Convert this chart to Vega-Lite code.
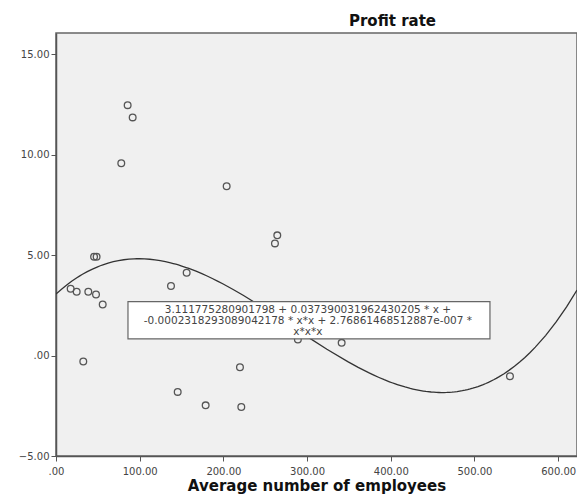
{
  "$schema": "https://vega.github.io/schema/vega-lite/v6.json",
  "width": 521,
  "height": 423,
  "autosize": "none",
  "padding": {"left": 56, "top": 33, "right": 0, "bottom": 48},
  "background": "white",
  "config": {
    "view": {"fill": "#f0f0f0", "stroke": "#666666", "strokeWidth": 1.5},
    "axis": {
      "domainColor": "#555555", "domainWidth": 1.5, "tickColor": "#555555", "tickSize": 5, "tickWidth": 1,
      "grid": false, "labelFont": "DejaVu Sans", "labelFontSize": 10, "labelColor": "#444444",
      "titleFont": "DejaVu Sans", "titleFontSize": 15, "titleFontWeight": "bold", "titleColor": "#111111"
    }
  },
  "title": {
    "text": "Profit rate", "font": "DejaVu Sans", "fontSize": 15, "fontWeight": "bold", "color": "#111111",
    "anchor": "middle", "frame": "group", "dx": 76, "dy": 16, "offset": 5, "baseline": "bottom"
  },
  "datasets": {
    "points": [
      {"employees": 85.6, "profit": 12.46},
      {"employees": 91.6, "profit": 11.85},
      {"employees": 78.0, "profit": 9.57},
      {"employees": 203.9, "profit": 8.42},
      {"employees": 264.4, "profit": 5.98},
      {"employees": 261.6, "profit": 5.58},
      {"employees": 45.5, "profit": 4.92},
      {"employees": 48.5, "profit": 4.92},
      {"employees": 156.1, "profit": 4.12},
      {"employees": 137.4, "profit": 3.46},
      {"employees": 17.5, "profit": 3.32},
      {"employees": 24.7, "profit": 3.17},
      {"employees": 38.6, "profit": 3.17},
      {"employees": 47.8, "profit": 3.04},
      {"employees": 55.8, "profit": 2.54},
      {"employees": 289.0, "profit": 0.80},
      {"employees": 341.3, "profit": 0.63},
      {"employees": 32.6, "profit": -0.30},
      {"employees": 219.8, "profit": -0.58},
      {"employees": 145.4, "profit": -1.81},
      {"employees": 178.8, "profit": -2.48},
      {"employees": 221.4, "profit": -2.56},
      {"employees": 542.4, "profit": -1.03}
    ],
    "box": [{"x1": 86, "x2": 518.5, "y1": 2.68, "y2": 0.83}],
    "eq": [
      {"x": 301, "y": 2.27, "t": "3.111775280901798 + 0.037390031962430205 * x +"},
      {"x": 301, "y": 1.72, "t": "-0.0002318293089042178 * x*x + 2.76861468512887e-007 *"},
      {"x": 301, "y": 1.17, "t": "x*x*x"}
    ]
  },
  "layer": [
    {
      "data": {"name": "points"},
      "transform": [{"regression": "profit", "on": "employees", "method": "poly", "order": 3, "extent": [0, 622.5]}],
      "mark": {"type": "line", "color": "#333333", "strokeWidth": 1.3, "clip": true},
      "encoding": {
        "x": {"field": "employees", "type": "quantitative", "title": "Average number of employees",
          "scale": {"domain": [0, 622.5], "nice": false, "zero": false},
          "axis": {"values": [0, 100, 200, 300, 400, 500, 600], "labelExpr": "datum.value == 0 ? '.00' : format(datum.value, '.2f')", "labelFlush": false, "labelOverlap": false, "labelPadding": 5, "titlePadding": 2}},
        "y": {"field": "profit", "type": "quantitative", "title": null,
          "scale": {"domain": [-5, 16.05], "nice": false, "zero": false},
          "axis": {"values": [-5, 0, 5, 10, 15], "labelExpr": "datum.value == 0 ? '.00' : format(datum.value, '.2f')", "labelFlush": false, "labelOverlap": false, "labelPadding": 2}}
      }
    },
    {
      "data": {"name": "points"},
      "mark": {"type": "point", "shape": "circle", "filled": false, "size": 45, "color": "#555555", "strokeWidth": 1.3, "opacity": 1},
      "encoding": {
        "x": {"field": "employees", "type": "quantitative", "title": "Average number of employees"},
        "y": {"field": "profit", "type": "quantitative", "title": null}
      }
    },
    {
      "data": {"name": "box"},
      "mark": {"type": "rect", "fill": "white", "stroke": "#666666", "strokeWidth": 1.2},
      "encoding": {
        "x": {"field": "x1", "type": "quantitative", "title": "Average number of employees"},
        "x2": {"field": "x2"},
        "y": {"field": "y1", "type": "quantitative", "title": null},
        "y2": {"field": "y2"}
      }
    },
    {
      "data": {"name": "eq"},
      "mark": {"type": "text", "font": "DejaVu Sans", "fontSize": 10.5, "color": "#444444", "align": "center", "baseline": "middle"},
      "encoding": {
        "x": {"field": "x", "type": "quantitative", "title": "Average number of employees"},
        "y": {"field": "y", "type": "quantitative", "title": null},
        "text": {"field": "t"}
      }
    }
  ]
}
